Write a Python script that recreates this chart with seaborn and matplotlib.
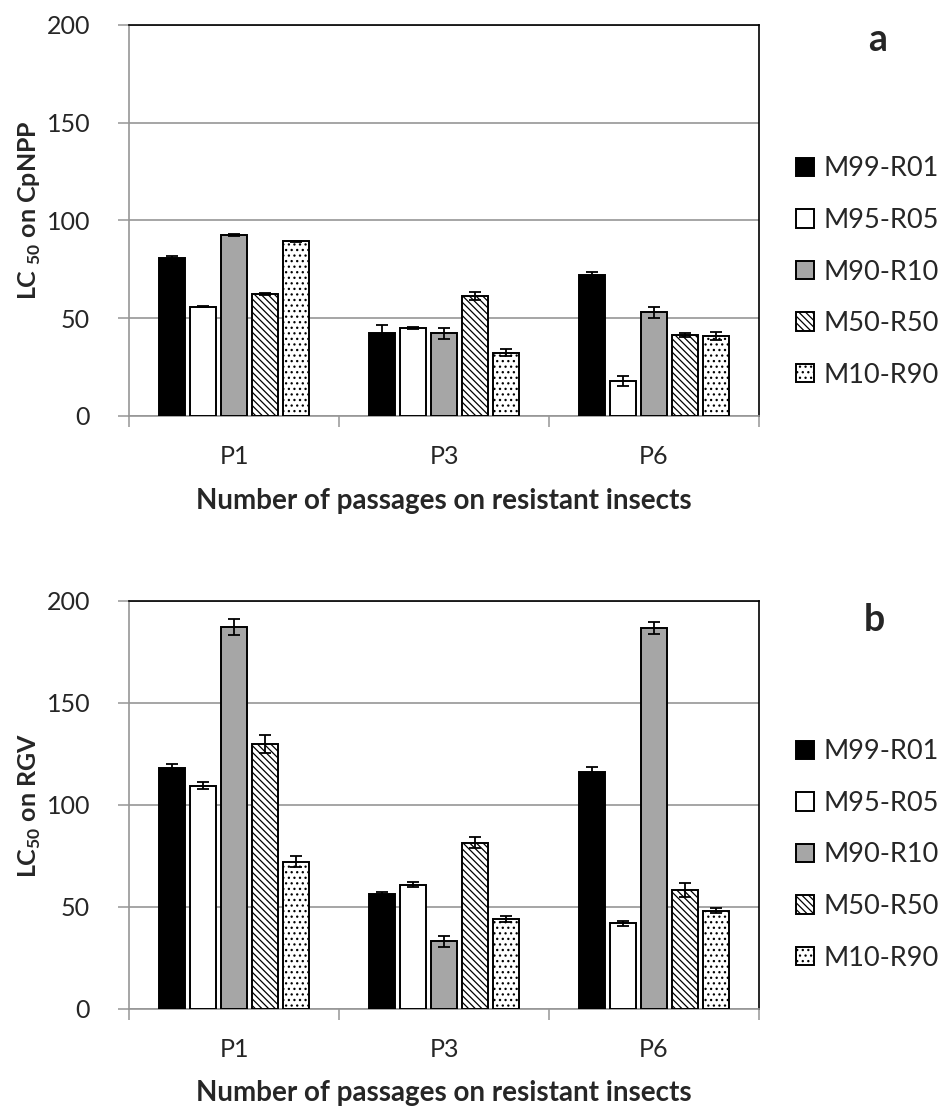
import numpy as np
import pandas as pd
import matplotlib
matplotlib.use('Agg')
import matplotlib.pyplot as plt
import seaborn as sns

passages = ['P1', 'P3', 'P6']
mixtures = ['M99-R01', 'M95-R05', 'M90-R10', 'M50-R50', 'M10-R90']

# LC50 on CpNPP (panel a), one list per mixture, values for P1, P3, P6
cpnpp_m99 = [80.8, 42.3, 72.1]
cpnpp_m95 = [55.9, 45.2, 17.9]
cpnpp_m90 = [92.7, 42.2, 53.1]
cpnpp_m50 = [62.4, 61.4, 41.5]
cpnpp_m10 = [89.4, 32.3, 41.0]
cpnpp_err_m99 = [0.9, 4.2, 1.4]
cpnpp_err_m95 = [0.3, 0.5, 2.7]
cpnpp_err_m90 = [0.5, 2.9, 2.9]
cpnpp_err_m50 = [0.4, 2.0, 1.2]
cpnpp_err_m10 = [0.3, 1.8, 2.0]

# LC50 on RGV (panel b)
rgv_m99 = [118.0, 56.4, 116.3]
rgv_m95 = [109.5, 60.9, 42.0]
rgv_m90 = [187.3, 33.2, 186.8]
rgv_m50 = [129.9, 81.5, 58.3]
rgv_m10 = [72.2, 44.1, 48.2]
rgv_err_m99 = [2.0, 1.0, 2.4]
rgv_err_m95 = [1.8, 1.3, 1.3]
rgv_err_m90 = [3.8, 2.6, 3.0]
rgv_err_m50 = [4.6, 2.7, 3.4]
rgv_err_m10 = [2.8, 1.5, 1.1]

colors = ['black', 'white', '#a6a6a6', 'white', 'white']
hatches = ['', '', '', '\\\\\\\\\\', '...']


def make_df(vals, errs):
    rows = []
    for m, v, e in zip(mixtures, vals, errs):
        for p, vv, ee in zip(passages, v, e):
            rows.append({'passage': p, 'mixture': m, 'lc50': vv, 'err': ee})
    return pd.DataFrame(rows)


df_a = make_df([cpnpp_m99, cpnpp_m95, cpnpp_m90, cpnpp_m50, cpnpp_m10],
               [cpnpp_err_m99, cpnpp_err_m95, cpnpp_err_m90, cpnpp_err_m50, cpnpp_err_m10])
df_b = make_df([rgv_m99, rgv_m95, rgv_m90, rgv_m50, rgv_m10],
               [rgv_err_m99, rgv_err_m95, rgv_err_m90, rgv_err_m50, rgv_err_m10])

sns.set_style('white')
plt.rcParams['font.family'] = ['Lato', 'DejaVu Sans']
plt.rcParams['mathtext.fontset'] = 'custom'
plt.rcParams['mathtext.rm'] = 'Lato'
plt.rcParams['mathtext.bf'] = 'Lato:bold'
plt.rcParams['hatch.linewidth'] = 0.9
plt.rcParams['hatch.color'] = 'black'

W, H = 943, 1110
fig = plt.figure(figsize=(W / 100, H / 100), dpi=100)
ax_a = fig.add_axes([129 / W, 1 - 416 / H, 630 / W, 391 / H])
ax_b = fig.add_axes([129 / W, 1 - 1009 / H, 630 / W, 408 / H])

grid_c = '#969696'


def draw(ax, df, ylabel, letter, ylab_y, xlab_y, letter_xy, leg_y):
    sns.barplot(data=df, x='passage', y='lc50', hue='mixture', order=passages,
                hue_order=mixtures, palette=colors, errorbar=None, width=0.74,
                gap=0.16, edgecolor='black', linewidth=1.4, ax=ax, zorder=3)
    bar_conts = list(ax.containers)
    for i, cont in enumerate(bar_conts):
        errs = df[df['mixture'] == mixtures[i]].set_index('passage').loc[passages, 'err'].values
        xs, ys = [], []
        for bar in cont:
            bar.set_hatch(hatches[i])
            xs.append(bar.get_x() + bar.get_width() / 2)
            ys.append(bar.get_height())
        ax.errorbar(xs, ys, yerr=errs, fmt='none', ecolor='black', elinewidth=1.3,
                    capsize=4.5, capthick=1.3, zorder=4)
    ax.set_ylim(0, 200)
    ax.set_xlim(-0.5, 2.5)
    ax.set_yticks([0, 50, 100, 150, 200])
    ax.yaxis.grid(True, color=grid_c, lw=1.2, zorder=0)
    ax.set_axisbelow(True)
    ax.set_xlabel('')
    ax.set_ylabel('')
    ax.tick_params(axis='y', which='major', labelsize=18, length=8, width=1.1,
                   color=grid_c, pad=20, left=True, direction='out')
    ax.tick_params(axis='x', which='major', labelsize=18, length=0, pad=21)
    ax.set_xticks([-0.5, 0.5, 1.5, 2.5], minor=True)
    ax.tick_params(axis='x', which='minor', length=8, width=1.1, color=grid_c,
                   direction='out', bottom=True)
    for s in ['left', 'bottom']:
        ax.spines[s].set_color(grid_c)
        ax.spines[s].set_linewidth(1.2)
    for s in ['top', 'right']:
        ax.spines[s].set_color('black')
        ax.spines[s].set_linewidth(1.2)
    if ax.legend_ is not None:
        ax.legend_.remove()
    handles = [cont[0] for cont in bar_conts]
    fig.legend(handles, mixtures, loc='center left', bbox_to_anchor=(796 / W, leg_y),
               frameon=False, fontsize=19.5, handlelength=0.67, handleheight=0.67,
               handletextpad=0.33, labelspacing=0.98, borderpad=0, borderaxespad=0)
    fig.text(30 / W, ylab_y, ylabel, rotation=90, ha='center', va='center',
             fontsize=18, fontweight='bold')
    fig.text(444 / W, xlab_y, 'Number of passages on resistant insects', ha='center',
             va='center', fontsize=20, fontweight='bold')
    fig.text(letter_xy[0] / W, letter_xy[1], letter, ha='center', va='center',
             fontsize=27, fontweight='bold')


draw(ax_a, df_a, r'LC $_{\mathbf{50}}$ on CpNPP', 'a', 1 - 210 / H, 1 - 501 / H,
     (878, 1 - 40 / H), 1 - 272 / H)
draw(ax_b, df_b, r'LC$_{\mathbf{50}}$ on RGV', 'b', 1 - 805 / H, 1 - 1093 / H,
     (874, 1 - 620 / H), 1 - 855 / H)

fig.savefig('out.png', dpi=100)
